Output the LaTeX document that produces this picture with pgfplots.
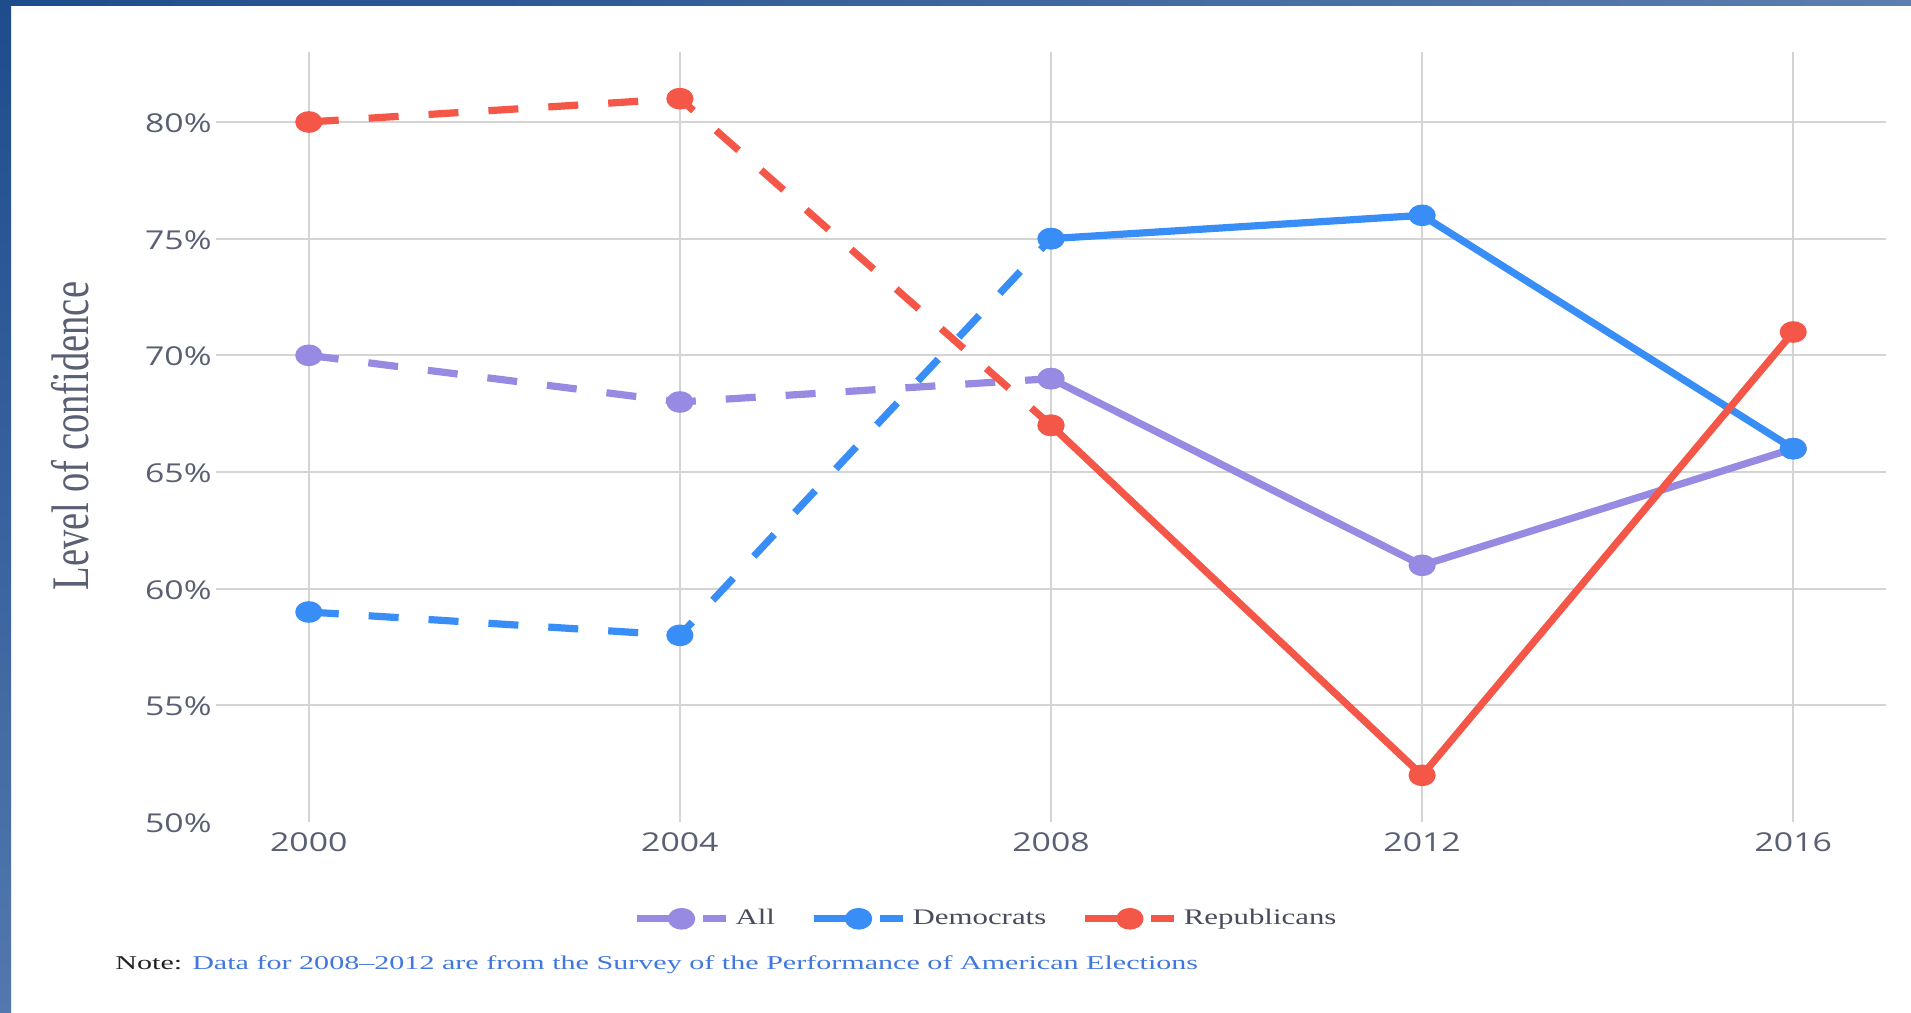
\documentclass[border=0pt]{standalone}
\usepackage{fontspec}
\usepackage{pgfplots}
\pgfplotsset{compat=1.18}
\setmainfont{Liberation Serif}
\newfontfamily\tickfont[FakeStretch=1.3]{Open Sans}
\newfontfamily\legfont[FakeStretch=1.39]{Liberation Serif}
\newfontfamily\notefont[FakeStretch=1.535]{Liberation Serif}
\newfontfamily\titfont[FakeStretch=0.73]{Liberation Serif}
\definecolor{allc}{RGB}{151,138,226}
\definecolor{demc}{RGB}{56,142,246}
\definecolor{repc}{RGB}{244,86,72}
\definecolor{tickc}{RGB}{90,96,115}
\definecolor{legc}{RGB}{72,76,92}
\definecolor{gridc}{RGB}{212,212,212}
\definecolor{bandL}{RGB}{30,76,140}
\definecolor{bandR}{RGB}{92,126,176}
\definecolor{bandB}{RGB}{82,120,174}
\definecolor{notec}{RGB}{66,120,222}
\definecolor{notedark}{RGB}{34,34,34}
\pgfplotsset{mylegend/.style={legend image code/.code={
  \draw[solid] (0bp,0bp) -- (22.5bp,0bp);
  \fill (22.5bp,0bp) ellipse [x radius=5bp, y radius=3.6bp];
  \draw[solid] (33bp,0bp) -- (44.5bp,0bp);}}}
\begin{document}
\begin{tikzpicture}
\fill[white] (0,0) rectangle (955.5bp,506.5bp);
\shade[left color=bandL, right color=bandR] (0,503.5bp) rectangle (955.5bp,506.5bp);
\shade[top color=bandL, bottom color=bandB] (0,0) rectangle (5.5bp,506.5bp);
\begin{axis}[
  at={(108bp,95.5bp)}, anchor=south west,
  scale only axis, width=835bp, height=385bp,
  xmin=1999, xmax=2017, ymin=50, ymax=83,
  clip=false,
  axis line style={draw=none},
  major tick length=0pt,
  tick style={draw=none},
  grid=major,
  grid style={gridc, line width=1bp},
  xtick={2000,2004,2008,2012,2016},
  xticklabels={2000,2004,2008,2012,2016},
  ytick={55,60,65,70,75,80},
  yticklabels={55\%,60\%,65\%,70\%,75\%,80\%},
  extra y ticks={50},
  extra y tick labels={50\%},
  extra y tick style={grid=none},
  ticklabel style={font=\tickfont\fontsize{13bp}{15bp}\selectfont, text=tickc, inner sep=0pt},
  xticklabel style={anchor=base, yshift=-14.75bp},
  yticklabel style={anchor=base east, xshift=-2bp, yshift=-5.25bp},
  legend columns=3,
  legend style={
    at={(axis description cs:0.2497,-0.1257)}, anchor=west,
    draw=none, fill=none, inner sep=0pt, outer sep=0pt,
    font=\legfont\fontsize{11.1bp}{13bp}\selectfont, text=legc,
    nodes={inner sep=0pt},
    /tikz/every odd column/.append style={column sep=3.2bp},
    /tikz/every even column/.append style={column sep=17.5bp},
  },
  legend cell align=left,
  every axis plot/.append style={line width=3.6bp, line join=round, mark=*, mark size=3.6bp, mark options={solid, xscale=1.38}},
]
\addlegendimage{mylegend, allc, line width=3.6bp}
\addlegendentry{All}
\addlegendimage{mylegend, demc, line width=3.6bp}
\addlegendentry{Democrats}
\addlegendimage{mylegend, repc, line width=3.6bp}
\addlegendentry{Republicans}

\addplot[allc, dash pattern=on 15bp off 15bp, forget plot] coordinates {(2000,70) (2004,68) (2008,69)};
\addplot[allc, solid, forget plot] coordinates {(2008,69) (2012,61) (2016,66)};
\addplot[demc, dash pattern=on 15bp off 15bp, forget plot] coordinates {(2000,59) (2004,58) (2008,75)};
\addplot[demc, solid, forget plot] coordinates {(2008,75) (2012,76) (2016,66)};
\addplot[repc, dash pattern=on 15bp off 15bp, forget plot] coordinates {(2000,80) (2004,81) (2008,67)};
\addplot[repc, solid, forget plot] coordinates {(2008,67) (2012,52) (2016,71)};
\end{axis}
\node[rotate=90, anchor=base, inner sep=0pt, text=tickc, font=\titfont\fontsize{26.4bp}{30bp}\selectfont] at (44bp,288.5bp) {Level of confidence};
\node[anchor=base west, inner sep=0pt, font=\notefont\fontsize{9.8bp}{12bp}\selectfont] at (57.5bp,22bp) {\textcolor{notedark}{Note:} \textcolor{notec}{Data for 2008–2012 are from the Survey of the Performance of American Elections}};
\pgfresetboundingbox
\useasboundingbox (0,0) rectangle (955.5bp,506.5bp);
\end{tikzpicture}
\end{document}
